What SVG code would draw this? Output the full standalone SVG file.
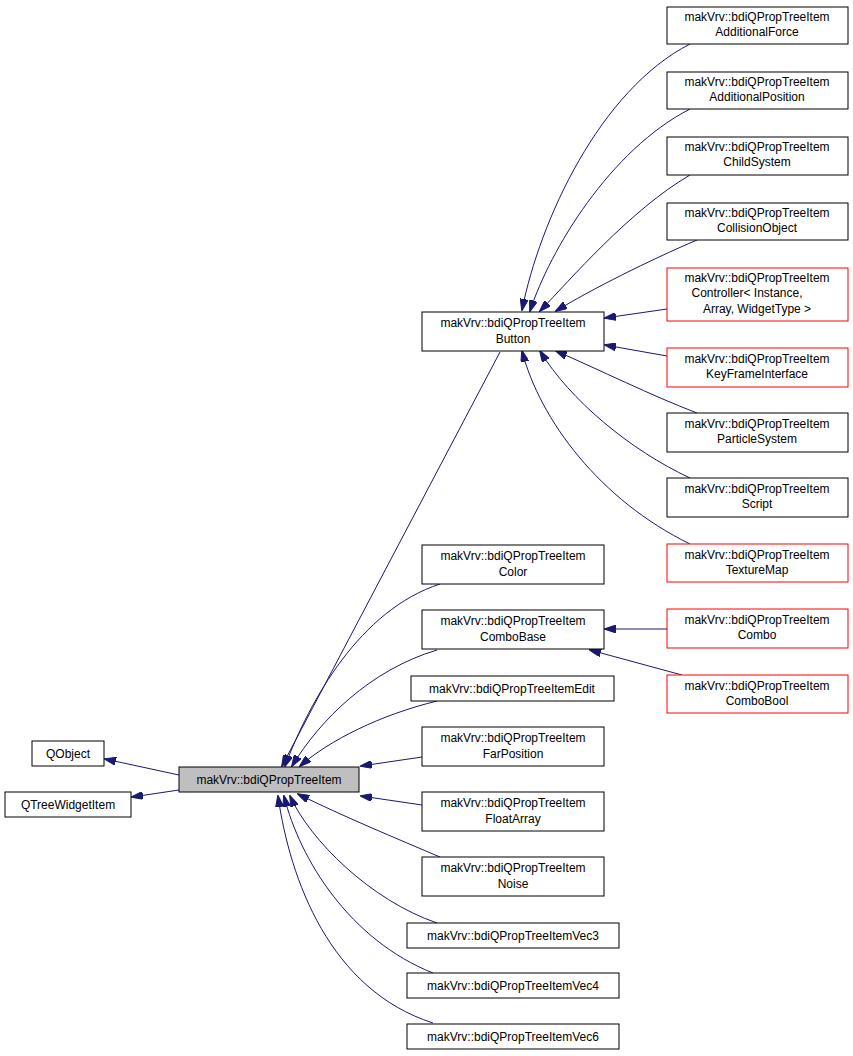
<svg xmlns="http://www.w3.org/2000/svg" width="853" height="1056" viewBox="0 0 853 1056">
<style>
.n{fill:#fff;stroke:#000;stroke-width:1}
.r{fill:#fff;stroke:#ff0000;stroke-width:1}
.m{fill:#bfbfbf;stroke:#000;stroke-width:1}
text{font-family:"Liberation Sans",Arial,sans-serif;font-size:12px;text-anchor:middle;fill:#000}
.e{fill:none;stroke:#191970;stroke-width:1;marker-end:url(#a)}
</style>
<defs><marker id="a" viewBox="0 0 12 8" refX="11" refY="4" markerWidth="12" markerHeight="8" markerUnits="userSpaceOnUse" orient="auto"><path d="M0,0L12,4L0,8Z" fill="#191970" stroke="#191970"/></marker></defs>
<rect width="853" height="1056" fill="#fff"/>
<g id="edges">
<path class="e" d="M179,775 L105,759"/>
<path class="e" d="M179,790 L132,797"/>
<path class="e" d="M500,352 L282,766"/>
<path class="e" d="M440,584 C360,610 310,700 285,766"/>
<path class="e" d="M437,650 C370,670 320,720 292,766"/>
<path class="e" d="M437,701 C380,715 330,740 300,766"/>
<path class="e" d="M422,757 L361,766"/>
<path class="e" d="M422,805 L361,796"/>
<path class="e" d="M440,857 C400,840 340,815 298,794"/>
<path class="e" d="M437,923 C370,900 310,840 290,796"/>
<path class="e" d="M433,973 C350,940 300,860 284,796"/>
<path class="e" d="M433,1023 C330,990 290,880 278,796"/>
<path class="e" d="M690,44 C600,90 540,220 522,310"/>
<path class="e" d="M690,109 C610,150 550,250 530,311"/>
<path class="e" d="M690,175 C630,210 570,280 540,311"/>
<path class="e" d="M697,240 C650,260 590,290 556,311"/>
<path class="e" d="M667,309 L605,318"/>
<path class="e" d="M667,356 L605,345"/>
<path class="e" d="M697,413 C650,395 600,370 556,351"/>
<path class="e" d="M690,478 C630,450 570,400 540,351"/>
<path class="e" d="M690,544 C600,500 540,420 522,351"/>
<path class="e" d="M667,629 L605,629"/>
<path class="e" d="M682,675 L590,650"/>
</g>
<g id="main"><rect class="m" x="179" y="767" width="180" height="25"/><text x="269" y="784">makVrv::bdiQPropTreeItem</text></g>
<g id="qobject"><rect class="n" x="32" y="741" width="72" height="25"/><text x="68" y="758">QObject</text></g>
<g id="qtwi"><rect class="n" x="5" y="792" width="126" height="25"/><text x="68" y="809">QTreeWidgetItem</text></g>
<g id="button"><rect class="n" x="422" y="312" width="182" height="39"/><text x="513" y="327">makVrv::bdiQPropTreeItem</text><text x="513" y="343">Button</text></g>
<g id="color"><rect class="n" x="422" y="545" width="182" height="39"/><text x="513" y="560">makVrv::bdiQPropTreeItem</text><text x="513" y="576">Color</text></g>
<g id="combobase"><rect class="n" x="422" y="610" width="182" height="39"/><text x="513" y="625">makVrv::bdiQPropTreeItem</text><text x="513" y="641">ComboBase</text></g>
<g id="edit"><rect class="n" x="411" y="676" width="203" height="25"/><text x="512" y="693">makVrv::bdiQPropTreeItemEdit</text></g>
<g id="farpos"><rect class="n" x="422" y="727" width="182" height="39"/><text x="513" y="742">makVrv::bdiQPropTreeItem</text><text x="513" y="758">FarPosition</text></g>
<g id="floatarr"><rect class="n" x="422" y="792" width="182" height="39"/><text x="513" y="807">makVrv::bdiQPropTreeItem</text><text x="513" y="823">FloatArray</text></g>
<g id="noise"><rect class="n" x="422" y="857" width="182" height="39"/><text x="513" y="872">makVrv::bdiQPropTreeItem</text><text x="513" y="888">Noise</text></g>
<g id="vec3"><rect class="n" x="407" y="923" width="212" height="25"/><text x="513" y="940">makVrv::bdiQPropTreeItemVec3</text></g>
<g id="vec4"><rect class="n" x="407" y="973" width="212" height="25"/><text x="513" y="990">makVrv::bdiQPropTreeItemVec4</text></g>
<g id="vec6"><rect class="n" x="407" y="1024" width="212" height="25"/><text x="513" y="1041">makVrv::bdiQPropTreeItemVec6</text></g>
<g id="addforce"><rect class="n" x="667" y="7" width="181" height="37"/><text x="757" y="21">makVrv::bdiQPropTreeItem</text><text x="757" y="36">AdditionalForce</text></g>
<g id="addpos"><rect class="n" x="667" y="72" width="181" height="37"/><text x="757" y="86">makVrv::bdiQPropTreeItem</text><text x="757" y="101">AdditionalPosition</text></g>
<g id="child"><rect class="n" x="667" y="137" width="181" height="38"/><text x="757" y="151">makVrv::bdiQPropTreeItem</text><text x="757" y="166">ChildSystem</text></g>
<g id="collision"><rect class="n" x="667" y="203" width="181" height="37"/><text x="757" y="217">makVrv::bdiQPropTreeItem</text><text x="757" y="232">CollisionObject</text></g>
<g id="controller"><rect class="r" x="667" y="268" width="181" height="53"/><text x="757" y="282">makVrv::bdiQPropTreeItem</text><text x="747" y="297">Controller&lt; Instance,</text><text x="757" y="313">Array, WidgetType &gt;</text></g>
<g id="keyframe"><rect class="r" x="667" y="348" width="181" height="39"/><text x="757" y="363">makVrv::bdiQPropTreeItem</text><text x="757" y="378">KeyFrameInterface</text></g>
<g id="particle"><rect class="n" x="667" y="413" width="181" height="39"/><text x="757" y="428">makVrv::bdiQPropTreeItem</text><text x="757" y="443">ParticleSystem</text></g>
<g id="script"><rect class="n" x="667" y="478" width="181" height="39"/><text x="757" y="493">makVrv::bdiQPropTreeItem</text><text x="757" y="508">Script</text></g>
<g id="texture"><rect class="r" x="667" y="544" width="181" height="38"/><text x="757" y="559">makVrv::bdiQPropTreeItem</text><text x="757" y="574">TextureMap</text></g>
<g id="combo"><rect class="r" x="667" y="609" width="181" height="39"/><text x="757" y="624">makVrv::bdiQPropTreeItem</text><text x="757" y="639">Combo</text></g>
<g id="combobool"><rect class="r" x="667" y="675" width="181" height="38"/><text x="757" y="690">makVrv::bdiQPropTreeItem</text><text x="757" y="705">ComboBool</text></g>
</svg>
